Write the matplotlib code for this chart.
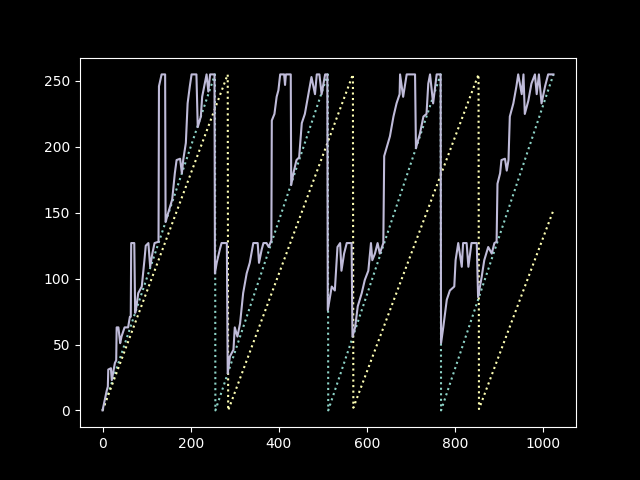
import matplotlib
matplotlib.use("Agg")
import matplotlib.pyplot as plt

plt.style.use("dark_background")

# teal sawtooth (period 256), vertices
teal_x = [0, 255, 256, 511, 512, 767, 768, 1023]
teal_y = [0, 255, 0, 255, 0, 255, 0, 255]

# yellow sawtooth (slower slope), vertices
yel_x = [0, 284, 285, 568, 569, 853, 854, 1023]
yel_y = [0, 255, 0, 255, 2, 255, 1, 152]

# lavender staircase
lav_x = [0, 9.5, 12, 13, 19, 21, 28, 31, 32, 36, 40, 43, 50, 58, 62, 64,
         65, 72, 74, 77, 81, 89, 95, 98, 104, 108, 113, 118, 127, 128, 134,
         142, 143, 149, 158, 164, 168, 176, 180, 183, 189, 193, 198, 202, 213,
         216, 223, 226, 232, 236, 240, 244, 254, 255, 259, 266, 270, 282, 284,
         289, 297, 300, 306, 312, 319, 327, 334, 342, 352, 355, 361, 365, 372,
         377, 383, 384, 390, 395, 399, 403, 412, 414, 416, 427, 428, 433, 440,
         446, 452, 459, 467, 474, 482, 486, 492, 497, 505, 510, 511, 520, 527,
         533, 539, 542, 548, 554, 565, 567, 573, 579, 588, 595, 603, 609, 612,
         618, 624, 629, 637, 639, 645, 652, 660, 667, 674, 675, 682, 690, 709,
         711, 720, 728, 735, 739, 743, 750, 758, 767, 768, 773, 781, 788, 798,
         801, 807, 815, 818, 826, 830, 837, 849, 852, 860, 866, 875, 883, 889,
         894, 896, 902, 905, 913, 917, 921, 924, 932, 939, 943, 951, 955, 958,
         966, 973, 981, 985, 990, 996, 1004, 1011, 1023]
lav_y = [0, 15, 18, 31, 32, 23, 36, 38, 63, 63, 51, 56, 63, 63, 71, 71,
         127, 127, 74, 79, 89, 94, 114, 125, 127, 109, 119, 127, 128, 246, 255,
         255, 143, 150, 160, 180, 190, 191, 180, 190, 203, 233, 246, 255, 255,
         215, 223, 238, 248, 255, 242, 255, 255, 104, 112, 122, 127, 127, 28,
         41, 46, 63, 56, 66, 89, 104, 112, 127, 127, 112, 122, 127, 127,
         124, 129, 220, 225, 238, 243, 255, 255, 247, 255, 255, 171, 180, 190,
         192, 218, 225, 240, 253, 240, 255, 255, 240, 255, 255, 76, 94, 91,
         124, 127, 106, 119, 127, 127, 56, 63, 79, 89, 99, 106, 127, 114,
         119, 127, 119, 127, 193, 200, 208, 223, 233, 240, 255, 238, 255, 255,
         199, 210, 223, 225, 248, 255, 233, 255, 255, 51, 63, 84, 91, 94,
         114, 127, 109, 127, 127, 109, 127, 127, 86, 101, 114, 124, 119, 127,
         128, 172, 180, 190, 191, 182, 190, 223, 233, 246, 255, 240, 255, 225,
         235, 248, 255, 240, 255, 233, 246, 255, 255]

fig, ax = plt.subplots(figsize=(6.4, 4.8), dpi=100)
ax.plot(teal_x, teal_y, ":", color="#8dd3c7")
ax.plot(yel_x, yel_y, ":", color="#feffb3")
ax.plot(lav_x, lav_y, "-", color="#bfbbd9")

fig.savefig("out.png")
